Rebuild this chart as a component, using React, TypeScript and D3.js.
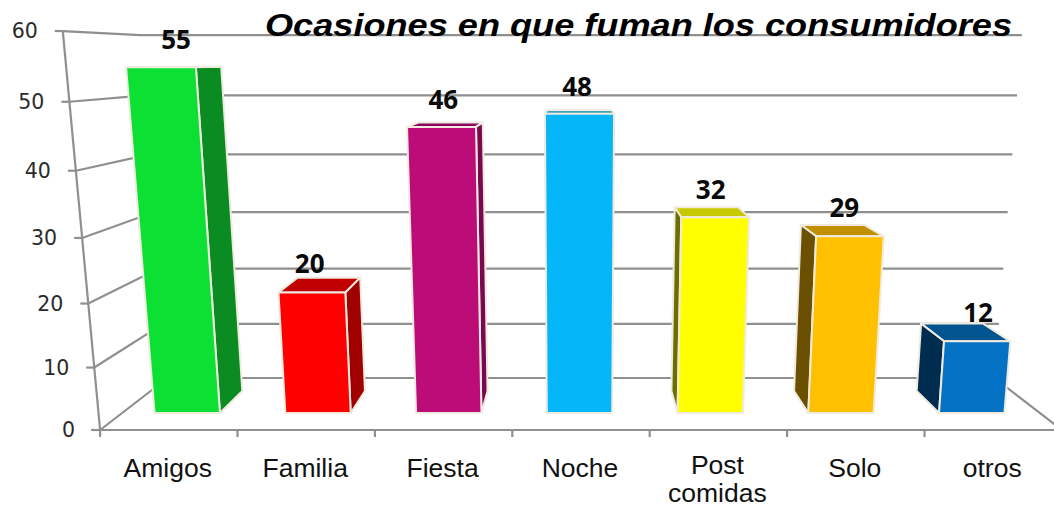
import React from "react";
import * as d3 from "d3";

const categories = ["Amigos", "Familia", "Fiesta", "Noche", "Post comidas", "Solo", "otros"];
const values = [55, 20, 46, 48, 32, 29, 12];
const frontColors = ["#0BE033", "#FF0000", "#BC0C78", "#05B6F9", "#FFFF00", "#FFC000", "#0372C4"];
const sideColors = ["#0A8C22", "#A00000", "#7A0850", "#0A8CB8", "#6E6E00", "#6A5000", "#002C50"];
const topColors = ["#0A8C22", "#C00000", "#8C0860", "#0A8CB8", "#C8C800", "#C09000", "#005490"];
const valueTicks = [0, 10, 20, 30, 40, 50, 60];
const title = "Ocasiones en que fuman los consumidores";

const W = 1054;
const H = 508;

// perspective model: X in category units, V in data units, Z in depth (0 front, 1 back wall)
const xUnit = d3.scaleLinear().domain([0, 7]).range([-3.5, 3.5]);
const band = d3.scaleBand<number>().domain(d3.range(7)).range([0, 7]).paddingInner(0.5).paddingOuter(0.25);
const vScale = d3.scaleLinear().domain([0, 60]).range([0, -401.2]);
const wV = d3.scaleLinear().domain([0, 60]).range([0, -0.072]);
const wZ = d3.scaleLinear().domain([0, 1]).range([1, 1.163]);
const zY = d3.scaleLinear().domain([0, 1]).range([430, 439.6]);
const CX = 581;
const UNIT = 137.4;

function project(x: number, v: number, z: number): [number, number] {
  const w = wZ(z) + wV(v);
  return [CX + (xUnit(x) * UNIT) / w, (zY(z) + vScale(v)) / w];
}

const BAR_Z0 = 0.3125;
const BAR_Z1 = 0.74;
const line = d3.line<[number, number]>();
const GRID = "#8f8f8f";
const EDGE = "#F0EADF";
const labelX = d3.scaleLinear().domain([0, 6]).range([176, 978]);

export default function App() {
  const floor: [number, number][] = [project(0, 0, 0), project(0, 0, 1), project(7, 0, 1), project(7, 0, 0)];
  return (
    <svg width={W} height={H} viewBox={`0 0 ${W} ${H}`} style={{ position: "absolute", left: 0, top: 0, background: "#fff" }}>
      {/* walls */}
      <g fill="none" stroke={GRID} strokeWidth={2.2}>
        {valueTicks.map((t) => (
          <path key={t} d={line(t === 0 ? floor : [project(0, t, 0), project(0, t, 1), project(7, t, 1)]) ?? ""} />
        ))}
        <path d={line([project(0, 0, 0), project(0, 60, 0)]) ?? ""} />
        <path d={line([[project(0, 0, 0)[0] - 9, 430], [W + 10, 430]]) ?? ""} />
        {valueTicks.map((t) => {
          const p = project(0, t, 0);
          return <path key={t} d={line([[p[0] - 8, p[1]], p]) ?? ""} />;
        })}
        {d3.range(0, 8).map((i) => {
          const p = project(i, 0, 0);
          return <path key={i} d={line([p, [p[0], p[1] + 7]]) ?? ""} />;
        })}
      </g>
      {/* bars */}
      <g stroke={EDGE} strokeWidth={2} strokeLinejoin="round" transform="translate(-1.5,1)">
        {categories.map((c, i) => {
          const x0 = band(i) as number;
          const x1 = x0 + band.bandwidth();
          const v = values[i];
          const f00 = project(x0, 0, BAR_Z0);
          const f10 = project(x1, 0, BAR_Z0);
          const f01 = project(x0, v, BAR_Z0);
          const f11 = project(x1, v, BAR_Z0);
          const b00 = project(x0, 0, BAR_Z1);
          const b10 = project(x1, 0, BAR_Z1);
          const b01 = project(x0, v, BAR_Z1);
          const b11 = project(x1, v, BAR_Z1);
          const isLeft = i < 3;
          const isRight = i > 3;
          return (
            <g key={c}>
              <path d={(line([f01, f11, b11, b01]) ?? "") + "Z"} fill={topColors[i]} />
              {isLeft && <path d={(line([f10, f11, b11, b10]) ?? "") + "Z"} fill={sideColors[i]} />}
              {isRight && <path d={(line([f00, f01, b01, b00]) ?? "") + "Z"} fill={sideColors[i]} />}
              <path d={(line([f00, f10, f11, f01]) ?? "") + "Z"} fill={frontColors[i]} />
            </g>
          );
        })}
      </g>
      {/* value axis labels */}
      <g fontFamily="'DejaVu Sans'" fontSize={20.5} fill="#2b2b2b" textAnchor="end">
        {valueTicks.map((t) => {
          const p = project(0, t, 0);
          return (
            <text key={t} x={p[0] - 25} y={p[1] + 7}>
              {t}
            </text>
          );
        })}
      </g>
      {/* category labels */}
      <g fontFamily="'Liberation Sans'" fontSize={26.5} fill="#111" textAnchor="middle">
        {categories.map((c, i) => {
          const cx = project(i + 0.5, 0, 0)[0] - 1;
          const parts = c.split(" ");
          return (
            <text key={c} y={parts.length > 1 ? 474 : 477}>
              {parts.map((s, j) => (
                <tspan key={s} x={cx} dy={j === 0 ? 0 : 28}>
                  {s}
                </tspan>
              ))}
            </text>
          );
        })}
      </g>
      {/* data labels */}
      <g fontFamily="'Open Sans'" fontWeight={700} fontSize={26} fill="#0a0a0a" textAnchor="middle">
        {values.map((v, i) => (
          <text key={i} x={labelX(i)} y={project(3.5, v, 0.5)[1] - (8 + v * 0.16)}>
            {v}
          </text>
        ))}
      </g>
      <text
        x={265}
        y={36}
        fontFamily="'Liberation Sans'"
        fontWeight={700}
        fontStyle="italic"
        fontSize={31}
        fill="#000"
        textLength={747}
        lengthAdjust="spacingAndGlyphs"
      >
        {title}
      </text>
    </svg>
  );
}
